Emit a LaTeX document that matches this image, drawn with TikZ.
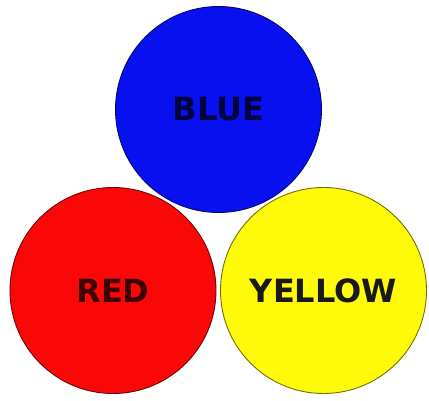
\documentclass[tikz,border=0pt]{standalone}
\usepackage{fontspec}
\newfontfamily\labelfont{DejaVu Sans}
\definecolor{primblue}{RGB}{8, 16, 240}
\definecolor{primred}{RGB}{250, 8, 8}
\definecolor{primyellow}{RGB}{255, 250, 10}

\begin{document}
\begin{tikzpicture}[
    x=1pt, y=1pt,
    primary/.style={
        circle, draw=#1!45!black, fill=#1, line width=0.9pt,
        minimum size=206pt, inner sep=0pt,
        font=\labelfont\bfseries\fontsize{32}{32}\selectfont
    }
]
\useasboundingbox[fill=white] (0,0) rectangle (429,401);

% Primary colour circles
\node[primary=primblue, text=primblue!25!black]     (blue)   at (218.5, 291.5) {BLUE};
\node[primary=primred, text=primred!25!black]       (red)    at (113, 110.5) {RED};
\node[primary=primyellow, text=black!90]            (yellow) at (323.5, 110.5) {YELLOW};

\end{tikzpicture}
\end{document}
